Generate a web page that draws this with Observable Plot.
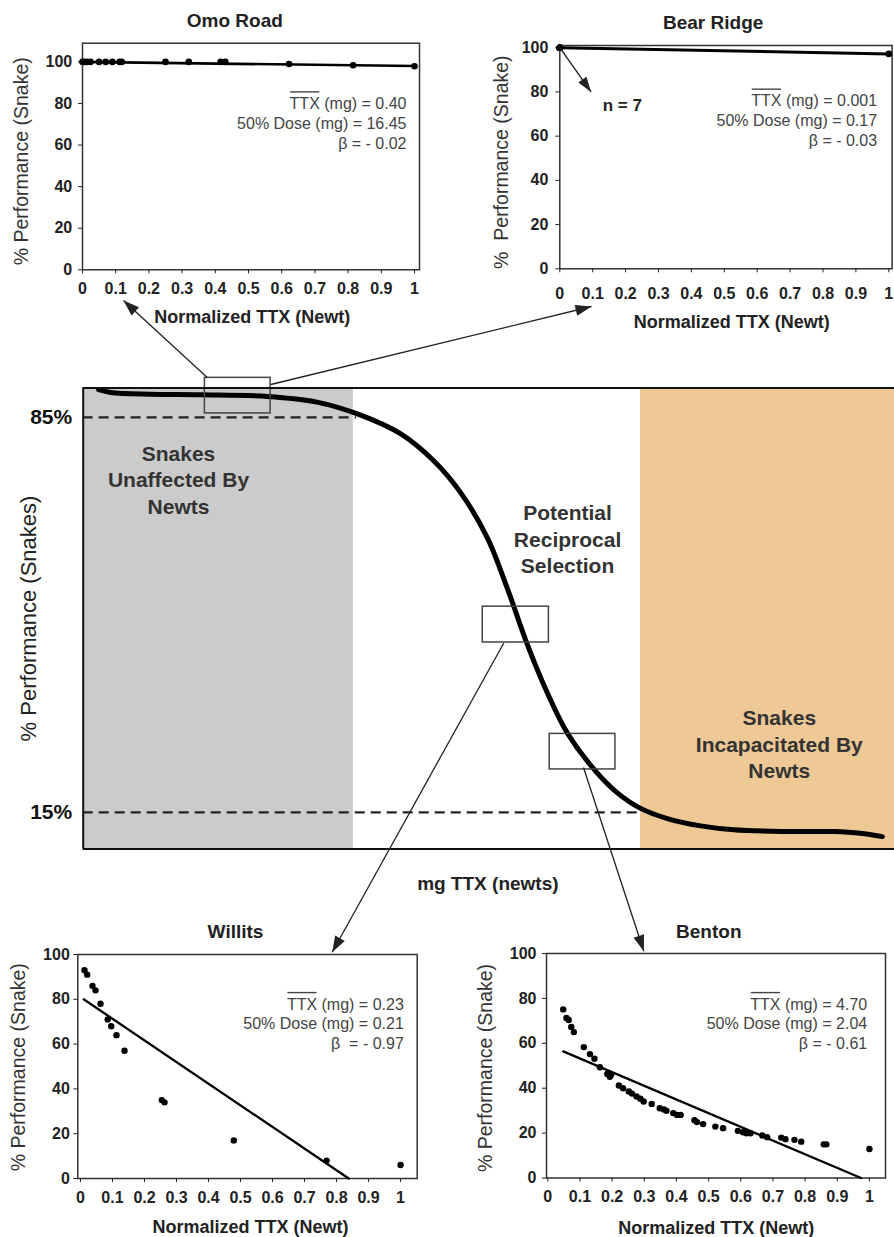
<!DOCTYPE html>
<html><head><meta charset="utf-8">
<script src="https://cdn.jsdelivr.net/npm/d3@7"></script>
<script src="https://cdn.jsdelivr.net/npm/@observablehq/plot@0.6"></script>
<style>
body{margin:0;background:#fff;}
#fig{position:relative;width:894px;height:1237px;overflow:hidden;background:#fff;}
#fig svg{position:absolute;}
</style></head><body><div id="fig"></div>
<script>
// ---------- data ----------
const sites = ["Omo Road", "Bear Ridge", "Willits", "Benton"];
const normTicks = [0, 0.1, 0.2, 0.3, 0.4, 0.5, 0.6, 0.7, 0.8, 0.9, 1];
const normTickLabels = ["0", "0.1", "0.2", "0.3", "0.4", "0.5", "0.6", "0.7", "0.8", "0.9", "1"];
const perfTicks = [0, 20, 40, 60, 80, 100];
const perfTickLabels = ["0", "20", "40", "60", "80", "100"];

const omoX = [0, 0.005, 0.014, 0.024, 0.05, 0.07, 0.09, 0.112, 0.118, 0.25, 0.32, 0.416, 0.43, 0.622, 0.815, 1.0];
const omoY = [100, 100, 100, 100, 100, 100, 100, 100, 100, 100, 100, 100, 100, 99, 98.4, 97.9];
const omoFitX = [0, 1];
const omoFitY = [100, 98];
const omoStats = ["TTX (mg) = 0.40", "50% Dose (mg) = 16.45", "β = - 0.02"];

const bearX = [0, 0, 0, 0, 0, 0, 0, 1];
const bearY = [100, 100, 100, 100, 100, 100, 100, 97.2];
const bearFitX = [0, 1];
const bearFitY = [100, 97.2];
const bearStats = ["TTX (mg) = 0.001", "50% Dose (mg) = 0.17", "β = - 0.03"];
const bearNote = [{x1: 0, y1: 100, x2: 0.095, y2: 80, label: "n = 7", lx: 0.19, ly: 74}];

const willitsX = [0.0125, 0.021, 0.0375, 0.047, 0.0625, 0.085, 0.096, 0.1125, 0.1375, 0.254, 0.2625, 0.479, 0.769, 1.0];
const willitsY = [93, 91, 86, 84, 78, 71, 68, 64, 57, 35, 34, 17, 8, 6];
const willitsFitX = [0.01, 0.838];
const willitsFitY = [80, 0];
const willitsStats = ["TTX (mg) = 0.23", "50% Dose (mg) = 0.21", "β\u00a0 = - 0.97"];

const bentonX = [0.048,0.058,0.065,0.073,0.081,0.112,0.131,0.145,0.162,0.185,0.193,0.197,0.221,0.234,0.252,0.262,0.276,0.288,0.298,0.323,0.348,0.361,0.369,0.390,0.402,0.413,0.456,0.464,0.483,0.521,0.545,0.591,0.607,0.618,0.630,0.667,0.682,0.726,0.739,0.767,0.788,0.858,0.866,1.0];
const bentonY = [75.1,71.3,70.4,67.3,65.0,58.3,55.2,53.1,49.3,46.3,45.1,46.0,41.2,40.0,38.5,37.6,36.3,35.3,34.1,33.0,31.1,30.5,29.9,28.9,28.1,28.1,25.7,24.9,24.0,22.9,22.2,21.0,20.4,19.9,19.9,18.9,18.2,18.0,17.3,17.0,16.2,15.0,15.0,12.9];
const bentonFitX = [0.048, 0.974];
const bentonFitY = [56.4, 0];
const bentonStats = ["TTX (mg) = 4.70", "50% Dose (mg) = 2.04", "β = - 0.61"];

// main conceptual dose-response curve (x: relative mg TTX, unlabeled; y: % performance)
const curveX = [1.9, 3.4, 8.3, 14.5, 22.7, 28.8, 33.8, 39.1, 43.2, 46.5, 49.8, 52.3, 54.7, 57.2, 59.7, 63.4, 65.8, 68.7, 72.0, 76.1, 80.2, 86.3, 92.5, 95.8, 98.5];
const curveY = [89.9, 89.4, 89.1, 89.0, 88.7, 87.7, 85.6, 82.1, 77.3, 71.7, 63.7, 54.6, 44.9, 36.2, 29.0, 21.9, 18.5, 15.7, 13.9, 12.6, 11.9, 11.6, 11.6, 11.3, 10.7];
const mainXDomain = [0, 100];
const mainYDomain = [8.5, 90.2];
const zones = [
  {zone: "unaffected", x1: 0, x2: 33.3},
  {zone: "incapacitated", x1: 68.7, x2: 100}
];
const thresholds = [{y: 85, xStart: 0, xEnd: 33.7}, {y: 15, xStart: 0, xEnd: 68.7}];
const thresholdTicks = [15, 85];
const zoomBoxes = [
  {site: "Omo Road / Bear Ridge", x1: 15.0, x2: 23.1, y1: 85.7, y2: 92.0},
  {site: "Willits", x1: 49.25, x2: 57.4, y1: 45.1, y2: 51.45},
  {site: "Benton", x1: 57.5, x2: 65.6, y1: 22.6, y2: 28.9}
];
const regionLabels = [
  {text: "Snakes\nUnaffected By\nNewts", x: 11.75, y: 74.1},
  {text: "Potential\nReciprocal\nSelection", x: 59.7, y: 63.6},
  {text: "Snakes\nIncapacitated By\nNewts", x: 85.8, y: 27.2}
];
// connectors from the zoom boxes to the panels (page coordinates)
const connectors = [
  {from: [207, 377.3], to: [123, 300]},
  {from: [270.3, 384], to: [591, 306]},
  {from: [503.3, 642.5], to: [331.7, 951.7]},
  {from: [583, 767], to: [643.3, 950.7]}
];

// ---------- drawing ----------
const FONT = '"Liberation Sans", Arial, Helvetica, sans-serif';
const INK = "#222";
const fig = document.getElementById("fig");
const baseStyle = {background: "transparent", fontFamily: FONT, overflow: "visible"};

function place(svg, left, top) {
  svg.style.left = left + "px";
  svg.style.top = top + "px";
  fig.appendChild(svg);
  return svg;
}

function panel(p) {
  const kx = (p.width - p.mL - p.mR) / (p.xDomain[1] - p.xDomain[0]);
  const ky = (p.height - p.mT - p.mB) / (p.yDomain[1] - p.yDomain[0]);
  const pts = p.x.map((x, i) => ({x, y: p.y[i]}));
  const fit = p.fitX.map((x, i) => ({x, y: p.fitY[i]}));
  const marks = [
    Plot.frame({stroke: "#333", strokeWidth: 1.5}),
    Plot.axisX({ticks: normTicks, tickFormat: d => normTickLabels[normTicks.indexOf(d)], tickSize: 4, tickPadding: p.xPad,
      fontSize: 16, fontWeight: "bold", color: INK, label: null}),
    Plot.axisY({ticks: perfTicks, tickFormat: d => perfTickLabels[perfTicks.indexOf(d)], tickSize: 4, tickPadding: p.yPad,
      fontSize: 16, fontWeight: "bold", color: INK, label: null}),
    Plot.line(fit, {x: "x", y: "y", stroke: "#000", strokeWidth: p.fitWidth}),
    Plot.dot(pts, {x: "x", y: "y", r: p.r, fill: "#000", stroke: "none"}),
    Plot.text([p.title], {text: d => d, frameAnchor: "top", lineAnchor: "middle", dx: p.titleDx, dy: p.titleDy,
      fontSize: 19, fontWeight: "bold", fill: INK}),
    Plot.text(["Normalized TTX (Newt)"], {text: d => d, frameAnchor: "bottom", lineAnchor: "middle", dx: p.xlDx, dy: p.xlDy,
      fontSize: 18, fontWeight: "bold", fill: INK}),
    Plot.text([p.yLabel], {text: d => d, frameAnchor: "left", rotate: -90, lineAnchor: "middle", textAnchor: "middle",
      dx: p.ylDx, dy: p.ylDy, fontSize: 19.5, fill: "#333"}),
    Plot.text([p.stats.join("\n")], {text: d => d, frameAnchor: "top-right", textAnchor: "end", lineAnchor: "top",
      lineHeight: 1.24, dx: p.stDx, dy: p.stDy, fontSize: 16, fill: "#444"})
  ];
  if (p.note) {
    marks.push(
      Plot.link(p.note, {x1: "x1", y1: "y1", x2: "x2", y2: "y2", stroke: INK, strokeWidth: 1.4}),
      Plot.vector(p.note, {x: "x2", y: "y2", anchor: "end", shape: "spike", length: 15, r: 5,
        rotate: d => Math.atan2((d.x2 - d.x1) * kx, (d.y2 - d.y1) * ky) * 180 / Math.PI,
        fill: INK, stroke: "none"}),
      Plot.text(p.note, {x: "lx", y: "ly", text: "label", fontSize: 17, fontWeight: "bold", fill: INK})
    );
  }
  const svg = Plot.plot({
    width: p.width, height: p.height,
    marginLeft: p.mL, marginRight: p.mR, marginTop: p.mT, marginBottom: p.mB,
    x: {domain: p.xDomain}, y: {domain: p.yDomain},
    style: baseStyle,
    marks
  });
  return place(svg, p.left, p.top);
}

const panels = [];
panels.push(panel({
  title: sites[0], left: 0, top: 0, width: 430, height: 330, mL: 82, mR: 11, mT: 42.7, mB: 60.7,
  xDomain: [0, 1.015], yDomain: [0, 109], x: omoX, y: omoY, fitX: omoFitX, fitY: omoFitY, stats: omoStats,
  xPad: 8.8, yPad: 6.3, r: 3.3, fitWidth: 2.6, yLabel: "% Performance (Snake)",
  titleDx: -16.2, titleDy: -22.7, xlDx: 1.2, xlDy: 47.7, ylDx: -60.3, ylDy: 4.8, stDx: -13, stDy: 51.6
}));
panels.push(panel({
  title: sites[1], left: 470, top: 0, width: 424, height: 340, mL: 89.3, mR: 2.4, mT: 45, mB: 71.7,
  xDomain: [0, 1.01], yDomain: [0, 101], x: bearX, y: bearY, fitX: bearFitX, fitY: bearFitY, stats: bearStats,
  xPad: 15.3, yPad: 7.4, r: 3.3, fitWidth: 3, yLabel: "%\u00a0 Performance (Snake)", note: bearNote,
  titleDx: -12.8, titleDy: -22.3, xlDx: 5.8, xlDy: 53.4, ylDx: -57.6, ylDy: 5, stDx: -15, stDy: 46.6
}));
panels.push(panel({
  title: sites[2], left: 0, top: 880, width: 440, height: 357, mL: 77.3, mR: 23.3, mT: 74, mB: 59,
  xDomain: [-0.0084, 1.052], yDomain: [0, 100], x: willitsX, y: willitsY, fitX: willitsFitX, fitY: willitsFitY, stats: willitsStats,
  xPad: 8.9, yPad: 4, r: 3.2, fitWidth: 2.3, yLabel: "% Performance (Snake)",
  titleDx: -12, titleDy: -22.3, xlDx: 3, xlDy: 48.7, ylDx: -59, ylDy: 0.7, stDx: -13.4, stDy: 41
}));
panels.push(panel({
  title: sites[3], left: 450, top: 880, width: 444, height: 357, mL: 96, mR: 9, mT: 73, mB: 59.5,
  xDomain: [-0.004, 1.05], yDomain: [0, 100], x: bentonX, y: bentonY, fitX: bentonFitX, fitY: bentonFitY, stats: bentonStats,
  xPad: 9, yPad: 6, r: 3.2, fitWidth: 2.3, yLabel: "% Performance (Snake)",
  titleDx: -7.2, titleDy: -21.3, xlDx: 0.3, xlDy: 49.8, ylDx: -61, ylDy: 2.2, stDx: -18.3, stDy: 42
}));

// main chart
const curve = curveX.map((x, i) => ({x, y: curveY[i]}));
const mainSvg = Plot.plot({
  width: 894, height: 540, marginLeft: 82.7, marginRight: 0, marginTop: 17.5, marginBottom: 61.5,
  x: {domain: mainXDomain, axis: null},
  y: {domain: mainYDomain},
  style: baseStyle,
  marks: [
    Plot.rect(zones.filter(d => d.zone === "unaffected"), {x1: "x1", x2: "x2", fill: "#cbcbcb"}),
    Plot.rect(zones.filter(d => d.zone === "incapacitated"), {x1: "x1", x2: "x2", fill: "#eec996"}),
    Plot.ruleY(thresholds, {y: "y", x1: "xStart", x2: "xEnd", stroke: INK, strokeWidth: 2.2, strokeDasharray: "10,6"}),
    Plot.line(curve, {x: "x", y: "y", curve: "catmull-rom", stroke: "#000", strokeWidth: 5}),
    Plot.rect(zoomBoxes, {x1: "x1", x2: "x2", y1: "y1", y2: "y2", fill: "none", stroke: "#444", strokeWidth: 1.5}),
    Plot.ruleY(mainYDomain, {stroke: "#111", strokeWidth: 2.2}),
    Plot.ruleX([mainXDomain[0]], {stroke: "#111", strokeWidth: 2}),
    Plot.text(regionLabels, {x: "x", y: "y", text: "text", lineHeight: 1.26, fontSize: 21, fontWeight: "bold", fill: "#333"}),
    Plot.axisY({ticks: thresholdTicks, tickFormat: d => d + "%", tickSize: 0, tickPadding: 11, fontSize: 21, fontWeight: "bold", color: "#111", label: null}),
    Plot.text(["% Performance (Snakes)"], {text: d => d, frameAnchor: "left", rotate: -90, lineAnchor: "middle", textAnchor: "middle",
      dx: -54.4, dy: 0, fontSize: 22, fill: INK}),
    Plot.text(["mg TTX (newts)"], {text: d => d, frameAnchor: "bottom", lineAnchor: "middle", dx: -1, dy: 34.5,
      fontSize: 19, fontWeight: "bold", fill: INK})
  ]
});
place(mainSvg, 0, 370);

// connector overlay
const overlay = Plot.plot({
  width: 894, height: 1237, margin: 0,
  x: {domain: [0, 894], range: [0, 894], axis: null},
  y: {domain: [0, 1237], range: [0, 1237], axis: null},
  style: {...baseStyle, pointerEvents: "none"},
  marks: [
    Plot.link(connectors, {x1: d => d.from[0], y1: d => d.from[1], x2: d => d.to[0], y2: d => d.to[1], stroke: INK, strokeWidth: 1.3}),
    Plot.vector(connectors, {x: d => d.to[0], y: d => d.to[1], anchor: "end", shape: "spike", length: 16, r: 5.5,
      rotate: d => Math.atan2(d.to[0] - d.from[0], -(d.to[1] - d.from[1])) * 180 / Math.PI,
      fill: INK, stroke: "none"})
  ]
});
place(overlay, 0, 0);

// overbar on "TTX" (mean TTX)
function addOverlines(svg) {
  for (const t of svg.querySelectorAll("text")) {
    if (!t.textContent.startsWith("TTX")) continue;
    const a = t.getExtentOfChar(0), b = t.getExtentOfChar(2);
    const ln = document.createElementNS("http://www.w3.org/2000/svg", "line");
    const yy = a.y - 3;
    ln.setAttribute("x1", a.x + 0.5);
    ln.setAttribute("x2", b.x + b.width - 0.5);
    ln.setAttribute("y1", yy);
    ln.setAttribute("y2", yy);
    ln.setAttribute("stroke", "#444");
    ln.setAttribute("stroke-width", 1.4);
    if (t.getAttribute("transform")) ln.setAttribute("transform", t.getAttribute("transform"));
    t.parentNode.appendChild(ln);
  }
}
panels.forEach(addOverlines);
</script></body></html>
